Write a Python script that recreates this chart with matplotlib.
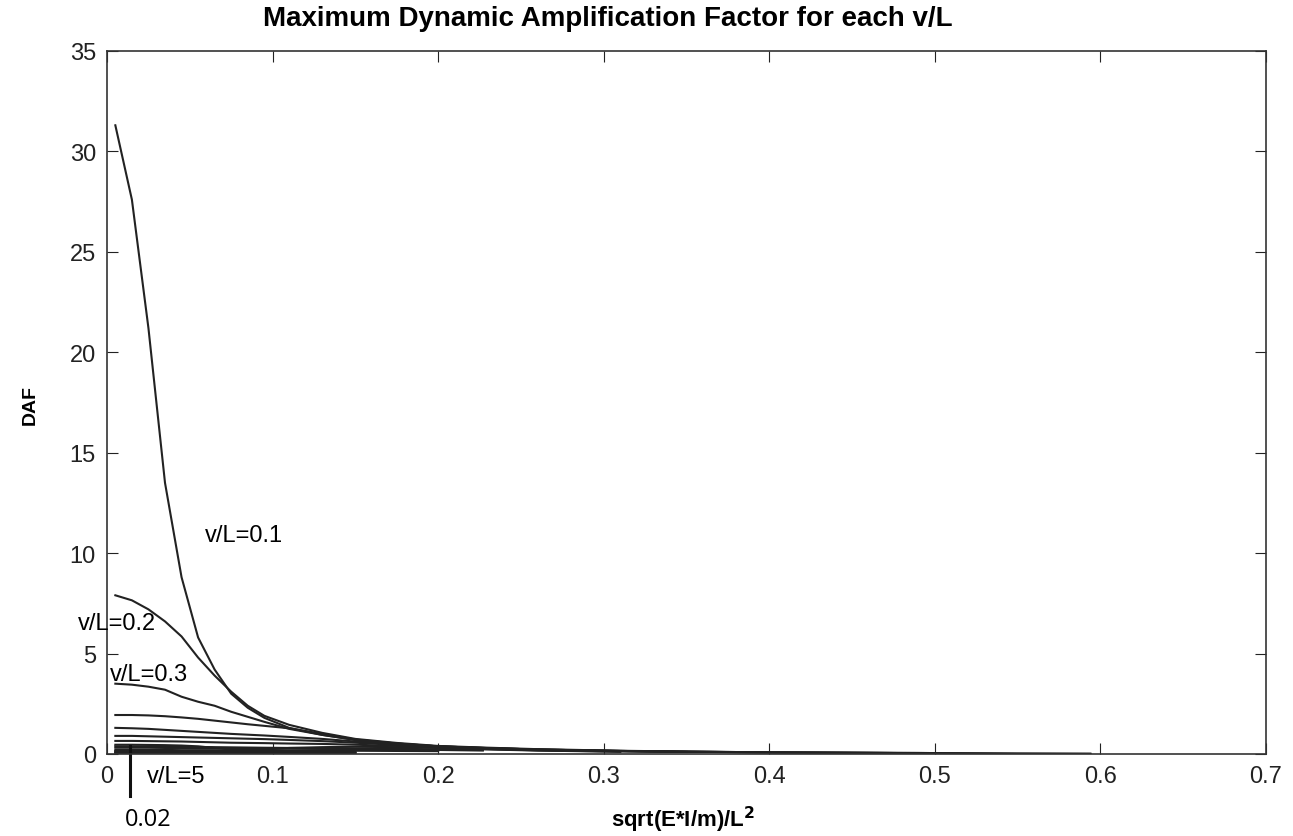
import numpy as np
import matplotlib
matplotlib.use('Agg')
from matplotlib import pyplot as plt

plt.rcParams['font.family'] = ['Liberation Sans', 'DejaVu Sans']

# x grid: sqrt(E*I/m)/L^2
x_grid = [0.005, 0.015, 0.025, 0.035, 0.045, 0.055, 0.065, 0.075, 0.085, 0.095,
          0.11, 0.13, 0.15, 0.175, 0.2, 0.227, 0.26, 0.31, 0.35, 0.4,
          0.45, 0.49, 0.55, 0.594]

# maximum DAF for each v/L (curves stop where the data stop)
vl_values = [0.1, 0.2, 0.3, 0.4, 0.5, 0.6, 0.7, 0.8, 0.9, 1.0, 1.5, 2, 3, 4, 5]
daf_01 = [31.3, 27.6, 21.2, 13.5, 8.8, 5.8, 4.2, 3.0, 2.3, 1.8, 1.3, 0.95, 0.7, 0.5,
          0.38, 0.3, 0.22, 0.15, 0.12, 0.08, 0.06, 0.05, 0.02, 0.01]
daf_02 = [7.9, 7.65, 7.2, 6.6, 5.85, 4.8, 3.9, 3.1, 2.4, 1.9, 1.45, 1.05, 0.75, 0.55,
          0.4, 0.32, 0.24, 0.16, 0.12, 0.08, 0.06, 0.05, 0.02, 0.01]
daf_03 = [3.5, 3.45, 3.35, 3.2, 2.85, 2.6, 2.4, 2.1, 1.85, 1.6, 1.25, 0.95, 0.7, 0.52,
          0.38, 0.3, 0.22, 0.15, 0.11, 0.08, 0.06, 0.04]
daf_04 = [1.94, 1.94, 1.92, 1.88, 1.82, 1.75, 1.66, 1.57, 1.48, 1.4, 1.28, 1.0, 0.72,
          0.52, 0.38, 0.3, 0.22, 0.15, 0.11, 0.08, 0.06, 0.04]
daf_05 = [1.3, 1.28, 1.25, 1.2, 1.15, 1.1, 1.05, 1.0, 0.96, 0.92, 0.85, 0.75, 0.62,
          0.48, 0.36, 0.28, 0.2, 0.14, 0.1]
daf_06 = [0.9, 0.9, 0.88, 0.86, 0.84, 0.82, 0.8, 0.78, 0.76, 0.74, 0.7, 0.64, 0.56,
          0.45, 0.34, 0.26, 0.19, 0.13, 0.1]
daf_07 = [0.65, 0.65, 0.64, 0.63, 0.62, 0.6, 0.58, 0.56, 0.55, 0.54, 0.52, 0.5, 0.46,
          0.4, 0.32, 0.25, 0.18, 0.12]
daf_08 = [0.46, 0.46, 0.45, 0.44, 0.42, 0.38, 0.3, 0.22, 0.2, 0.22, 0.3, 0.34, 0.36,
          0.34, 0.3, 0.23, 0.17, 0.11]
daf_09 = [0.38, 0.38, 0.37, 0.37, 0.36, 0.35, 0.34, 0.33, 0.32, 0.31, 0.3, 0.29, 0.28,
          0.26, 0.23, 0.2]
daf_10 = [0.31, 0.31, 0.31, 0.3, 0.3, 0.29, 0.29, 0.28, 0.28, 0.27, 0.26, 0.25, 0.24,
          0.22, 0.2, 0.17]
daf_15 = [0.2, 0.2, 0.2, 0.2, 0.19, 0.19, 0.19, 0.18, 0.18, 0.18, 0.17, 0.17, 0.16,
          0.15, 0.14]
daf_20 = [0.15, 0.15, 0.15, 0.15, 0.15, 0.14, 0.14, 0.14, 0.14, 0.13, 0.13, 0.12, 0.12]
daf_30 = [0.1, 0.1, 0.1, 0.1, 0.1, 0.1, 0.09, 0.09, 0.09, 0.09, 0.09, 0.08, 0.08]
daf_40 = [0.07, 0.07, 0.07, 0.07, 0.07, 0.07, 0.07, 0.06, 0.06, 0.06, 0.06, 0.06, 0.06]
daf_50 = [0.05, 0.05, 0.05, 0.05, 0.05, 0.05, 0.05, 0.05, 0.04, 0.04, 0.04, 0.04, 0.04]
all_daf = [daf_01, daf_02, daf_03, daf_04, daf_05, daf_06, daf_07, daf_08, daf_09,
           daf_10, daf_15, daf_20, daf_30, daf_40, daf_50]

x_ticks = [0, 0.1, 0.2, 0.3, 0.4, 0.5, 0.6, 0.7]
x_ticklabels = ['0', '0.1', '0.2', '0.3', '0.4', '0.5', '0.6', '0.7']
y_ticks = [0, 5, 10, 15, 20, 25, 30, 35]

fig = plt.figure(figsize=(12.93, 8.37), dpi=100)
ax = fig.add_axes([0.0828, 0.098, 0.8962, 0.8399])

for daf in all_daf:
    ax.plot(x_grid[:len(daf)], daf, color='#222222', linewidth=1.5)

ax.set_xlim(0, 0.7)
ax.set_ylim(0, 35)
ax.set_xticks(x_ticks)
ax.set_xticklabels(x_ticklabels)
ax.set_yticks(y_ticks)
ax.tick_params(direction='in', top=True, right=True, length=8, width=0.8,
               labelsize=17, pad=8, colors='#222222')
for sp in ax.spines.values():
    sp.set_linewidth(1.2)
    sp.set_color('#333333')

# title / axis labels placed as in the original (title sits left of centre)
fig.text(608 / 1293, 1 - 19 / 837, 'Maximum Dynamic Amplification Factor for each v/L',
         fontsize=20, fontweight='bold', ha='center', va='center')
fig.text(683 / 1293, 1 - 820 / 837, r'sqrt(E*I/m)/L$^\mathbf{2}$',
         fontsize=16, fontweight='bold', ha='center', va='center')
fig.text(30 / 1293, 1 - 405 / 837, 'DAF', fontsize=14, fontweight='bold',
         rotation=90, ha='center', va='center')

# curve labels
ax.text(0.059, 10.9, 'v/L=0.1', fontsize=17, va='center', ha='left')
ax.text(-0.0175, 6.5, 'v/L=0.2', fontsize=17, va='center', ha='left', clip_on=False)
ax.text(0.002, 4.0, 'v/L=0.3', fontsize=17, va='center', ha='left', clip_on=False)
ax.text(0.024, -1.1, 'v/L=5', fontsize=17, va='center', ha='left', clip_on=False)

# marker for x = 0.02
ax.plot([0.0139, 0.0139], [0.4, -2.1], color='#111111', linewidth=2.2, clip_on=False)
ax.text(0.025, -3.25, '0.02', fontsize=17, va='center', ha='center',
        family=['Open Sans', 'DejaVu Sans'], clip_on=False)

fig.savefig('out.png', dpi=100)
